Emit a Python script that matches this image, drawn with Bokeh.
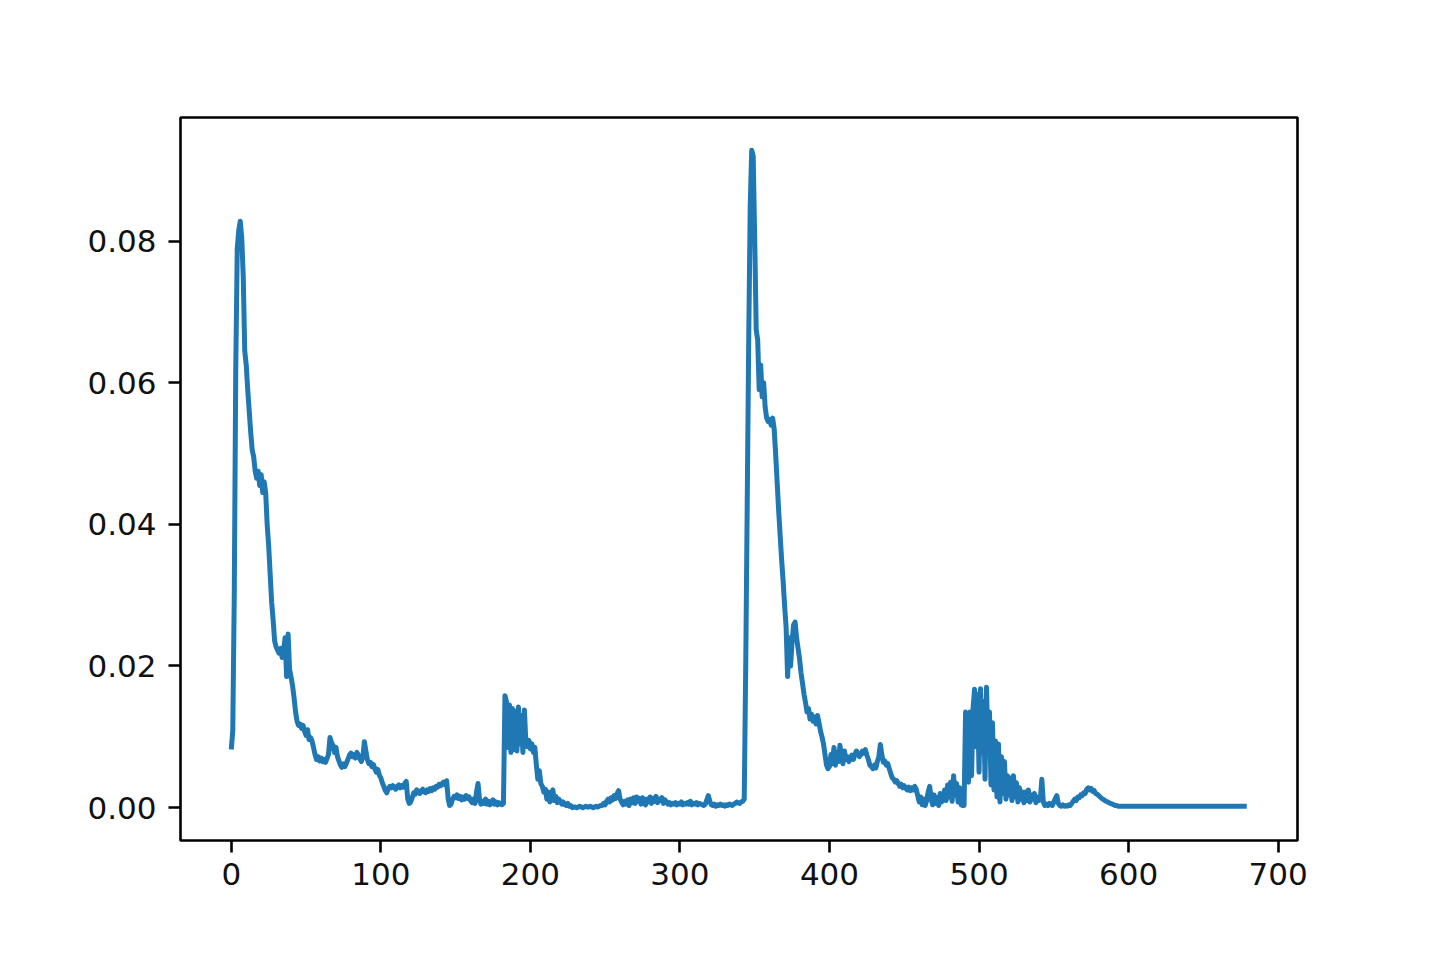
from bokeh.plotting import figure
from bokeh.models import Range1d, FixedTicker, NumeralTickFormatter, ColumnDataSource
from bokeh.embed import file_html
from bokeh.resources import INLINE

# ---- data (one value per sample index) ----
seg_a = [
    0.0082, 0.0109, 0.0300, 0.0620, 0.0790, 0.0815, 0.0828, 0.0805, 0.0750, 0.0645,
    0.0625, 0.0590, 0.0560, 0.0530, 0.0505, 0.0495, 0.0475, 0.0465, 0.0475, 0.0455,
    0.0470, 0.0445, 0.0460, 0.0445, 0.0400, 0.0370, 0.0330, 0.0290, 0.0265, 0.0235,
    0.0227, 0.0222, 0.0218, 0.0225, 0.0212, 0.0222, 0.0240, 0.0185, 0.0245, 0.0195,
    0.0184, 0.0172, 0.0155, 0.0135, 0.0122, 0.0116, 0.0118, 0.0112, 0.0116, 0.0108,
    0.0102, 0.0110, 0.0096, 0.0099, 0.0094, 0.0085, 0.0075, 0.0068, 0.0072, 0.0066,
    0.0070, 0.0065, 0.0068, 0.0064, 0.0069, 0.0075, 0.0099, 0.0092, 0.0088, 0.0078,
    0.0085, 0.0072, 0.0066, 0.0060, 0.0057, 0.0062, 0.0058, 0.0063, 0.0068, 0.0074,
    0.0077, 0.0072, 0.0075, 0.0070, 0.0078, 0.0074, 0.0069, 0.0065, 0.0072, 0.0093,
    0.0080, 0.0068, 0.0062, 0.0064, 0.0058, 0.0061, 0.0055, 0.0050, 0.0054, 0.0046,
]
seg_b = [
    0.0042, 0.0035, 0.0030, 0.0024, 0.0021, 0.0027, 0.0030, 0.0028, 0.0031, 0.0029,
    0.0026, 0.0030, 0.0032, 0.0028, 0.0031, 0.0029, 0.0034, 0.0037, 0.0012, 0.0006,
    0.0008, 0.0014, 0.0021, 0.0019, 0.0025, 0.0022, 0.0020, 0.0024, 0.0026, 0.0022,
    0.0021, 0.0025, 0.0023, 0.0027, 0.0024, 0.0028, 0.0026, 0.0030, 0.0029, 0.0033,
    0.0031, 0.0034, 0.0036, 0.0032, 0.0038, 0.0013, 0.0003, 0.0005, 0.0012, 0.0016,
    0.0014, 0.0018, 0.0013, 0.0016, 0.0011, 0.0015, 0.0012, 0.0017, 0.0013, 0.0015,
    0.0010, 0.0007, 0.0012, 0.0006, 0.0022, 0.0034, 0.0011, 0.0005, 0.0009, 0.0006,
    0.0012, 0.0005, 0.0009, 0.0004, 0.0008, 0.0011, 0.0005, 0.0008, 0.0004, 0.0007,
    0.0005, 0.0004, 0.0006, 0.0158, 0.0150, 0.0085, 0.0145, 0.0078, 0.0140, 0.0082,
    0.0136, 0.0080, 0.0142, 0.0090, 0.0130, 0.0078, 0.0138, 0.0092, 0.0086, 0.0095,
]
seg_c = [
    0.0083, 0.0090, 0.0078, 0.0085, 0.0060, 0.0040, 0.0052, 0.0034, 0.0030, 0.0022,
    0.0026, 0.0012, 0.0022, 0.0008, 0.0018, 0.0025, 0.0010, 0.0016, 0.0007, 0.0012,
    0.0009, 0.0005, 0.0008, 0.0004, 0.0003, 0.0006, 0.0002, 0.0003, 0.0000, 0.0001,
    0.0001, 0.0000, 0.0001, 0.0002, 0.0001, 0.0000, 0.0001, 0.0002, 0.0001, 0.0001,
    0.0002, 0.0001, 0.0000, 0.0001, 0.0002, 0.0001, 0.0002, 0.0003, 0.0003, 0.0006,
    0.0004, 0.0009, 0.0012, 0.0008, 0.0014, 0.0011, 0.0017, 0.0013, 0.0020, 0.0024,
    0.0012, 0.0008, 0.0004, 0.0009, 0.0005, 0.0011, 0.0003, 0.0012, 0.0007, 0.0014,
    0.0006, 0.0015, 0.0009, 0.0013, 0.0005, 0.0014, 0.0010, 0.0004, 0.0012, 0.0008,
    0.0015, 0.0006, 0.0013, 0.0009, 0.0016, 0.0007, 0.0012, 0.0010, 0.0014, 0.0006,
    0.0011, 0.0008, 0.0005, 0.0007, 0.0004, 0.0006, 0.0005, 0.0007, 0.0004, 0.0006,
]
seg_d = [
    0.0005, 0.0008, 0.0004, 0.0006, 0.0005, 0.0007, 0.0005, 0.0009, 0.0004, 0.0006,
    0.0005, 0.0007, 0.0004, 0.0006, 0.0005, 0.0004, 0.0003, 0.0005, 0.0011, 0.0017,
    0.0009, 0.0004, 0.0003, 0.0005, 0.0002, 0.0004, 0.0003, 0.0005, 0.0003, 0.0004,
    0.0002, 0.0004, 0.0003, 0.0005, 0.0004, 0.0003, 0.0005, 0.0006, 0.0008, 0.0007,
    0.0006, 0.0008, 0.0009, 0.0012, 0.0200, 0.0430, 0.0660, 0.0850, 0.0928, 0.0920,
    0.0805, 0.0675, 0.0660, 0.0590, 0.0625, 0.0580, 0.0600, 0.0565, 0.0550, 0.0545,
    0.0548, 0.0540, 0.0550, 0.0535, 0.0500, 0.0460, 0.0420, 0.0385, 0.0350, 0.0320,
    0.0285, 0.0255, 0.0185, 0.0240, 0.0200, 0.0235, 0.0258, 0.0262, 0.0240, 0.0225,
    0.0210, 0.0190, 0.0175, 0.0160, 0.0148, 0.0135, 0.0140, 0.0125, 0.0132, 0.0122,
    0.0128, 0.0118, 0.0130, 0.0120, 0.0108, 0.0100, 0.0090, 0.0075, 0.0060, 0.0055,
]
seg_e = [
    0.0058, 0.0075, 0.0062, 0.0085, 0.0060, 0.0078, 0.0065, 0.0088, 0.0070, 0.0062,
    0.0080, 0.0068, 0.0072, 0.0065, 0.0070, 0.0074, 0.0068, 0.0075, 0.0080, 0.0077,
    0.0072, 0.0075, 0.0080, 0.0077, 0.0082, 0.0074, 0.0068, 0.0060, 0.0058, 0.0055,
    0.0060, 0.0056, 0.0065, 0.0072, 0.0089, 0.0075, 0.0064, 0.0066, 0.0060, 0.0062,
    0.0055, 0.0048, 0.0042, 0.0040, 0.0036, 0.0038, 0.0034, 0.0030, 0.0033, 0.0028,
    0.0031, 0.0027, 0.0025, 0.0029, 0.0024, 0.0028, 0.0025, 0.0030, 0.0026, 0.0017,
    0.0008, 0.0015, 0.0004, 0.0012, 0.0003, 0.0010, 0.0022, 0.0030, 0.0012, 0.0004,
    0.0018, 0.0006, 0.0014, 0.0003, 0.0020, 0.0008, 0.0016, 0.0025, 0.0010, 0.0032,
    0.0015, 0.0036, 0.0009, 0.0045, 0.0018, 0.0034, 0.0008, 0.0028, 0.0004, 0.0003,
    0.0003, 0.0135, 0.0128, 0.0036, 0.0135, 0.0045, 0.0140, 0.0167, 0.0086, 0.0160,
]
seg_f = [
    0.0050, 0.0168, 0.0078, 0.0150, 0.0040, 0.0170, 0.0090, 0.0135, 0.0032, 0.0120,
    0.0025, 0.0094, 0.0015, 0.0090, 0.0008, 0.0072, 0.0020, 0.0065, 0.0012, 0.0045,
    0.0018, 0.0042, 0.0010, 0.0045, 0.0015, 0.0035, 0.0008, 0.0028, 0.0012, 0.0022,
    0.0007, 0.0022, 0.0010, 0.0025, 0.0008, 0.0018, 0.0012, 0.0020, 0.0007, 0.0015,
    0.0010, 0.0012, 0.0040, 0.0008, 0.0003, 0.0005, 0.0003, 0.0006, 0.0004, 0.0003,
    0.0008, 0.0013, 0.0017, 0.0006, 0.0003, 0.0002, 0.0004, 0.0002, 0.0003, 0.0002,
    0.0004, 0.0003, 0.0006, 0.0009, 0.0012, 0.0010, 0.0015, 0.0014, 0.0018, 0.0017,
    0.0021, 0.0020, 0.0026, 0.0028, 0.0025, 0.0027, 0.0023, 0.0024, 0.0020, 0.0019,
    0.0017, 0.0015, 0.0013, 0.0012, 0.0010, 0.0009, 0.0008, 0.0007, 0.0006, 0.0005,
    0.0004, 0.0003, 0.0003, 0.0002, 0.0002, 0.0002, 0.0002, 0.0002, 0.0002, 0.0002,
]
seg_g = [
    0.0002, 0.0002, 0.0002, 0.0002, 0.0002, 0.0002, 0.0002, 0.0002, 0.0002, 0.0002,
    0.0002, 0.0002, 0.0002, 0.0002, 0.0002, 0.0002, 0.0002, 0.0002, 0.0002, 0.0002,
    0.0002, 0.0002, 0.0002, 0.0002, 0.0002, 0.0002, 0.0002, 0.0002, 0.0002, 0.0002,
    0.0002, 0.0002, 0.0002, 0.0002, 0.0002, 0.0002, 0.0002, 0.0002, 0.0002, 0.0002,
    0.0002, 0.0002, 0.0002, 0.0002, 0.0002, 0.0002, 0.0002, 0.0002, 0.0002, 0.0002,
    0.0002, 0.0002, 0.0002, 0.0002, 0.0002, 0.0002, 0.0002, 0.0002, 0.0002, 0.0002,
    0.0002, 0.0002, 0.0002, 0.0002, 0.0002, 0.0002, 0.0002, 0.0002, 0.0002, 0.0002,
    0.0002, 0.0002, 0.0002, 0.0002, 0.0002, 0.0002, 0.0002, 0.0002, 0.0002, 0.0002,
]

x_ticks = [0, 100, 200, 300, 400, 500, 600, 700]
y_ticks = [0.00, 0.02, 0.04, 0.06, 0.08]

values = seg_a + seg_b + seg_c + seg_d + seg_e + seg_f + seg_g
index = list(range(len(values)))

# matplotlib-like 5% margins
xmin, xmax = min(index), max(index)
ymin, ymax = min(values), max(values)
xpad = 0.05 * (xmax - xmin)
ypad = 0.05 * (ymax - ymin)

p = figure(
    width=1424, height=944,
    x_range=Range1d(xmin - xpad, xmax + xpad),
    y_range=Range1d(ymin - ypad, ymax + ypad),
    output_backend="svg", toolbar_location=None,
    min_border_left=180, min_border_right=127,
    min_border_top=117, min_border_bottom=104,
    background_fill_color="white", border_fill_color="white",
)

src = ColumnDataSource(dict(x=index, y=values))
p.line("x", "y", source=src, line_color="#1f77b4", line_width=5, line_join="round")

p.xgrid.visible = False
p.ygrid.visible = False
p.outline_line_color = "black"
p.outline_line_width = 2.6
p.outline_line_alpha = 1.0

for ax in (p.xaxis[0], p.yaxis[0]):
    ax.axis_line_color = None
    ax.major_tick_in = 0
    ax.major_tick_out = 12
    ax.major_tick_line_width = 2.6
    ax.major_tick_line_color = "black"
    ax.minor_tick_line_color = None
    ax.major_label_text_font = "DejaVu Sans"
    ax.major_label_text_font_size = "31px"
    ax.major_label_text_color = "#111111"

p.xaxis[0].ticker = FixedTicker(ticks=x_ticks)
p.yaxis[0].ticker = FixedTicker(ticks=y_ticks)
p.xaxis[0].major_label_standoff = 10
p.yaxis[0].major_label_standoff = 12
p.yaxis[0].formatter = NumeralTickFormatter(format="0.00")
p.xaxis[0].formatter = NumeralTickFormatter(format="0")

open("out.html", "w").write(file_html(p, INLINE))
